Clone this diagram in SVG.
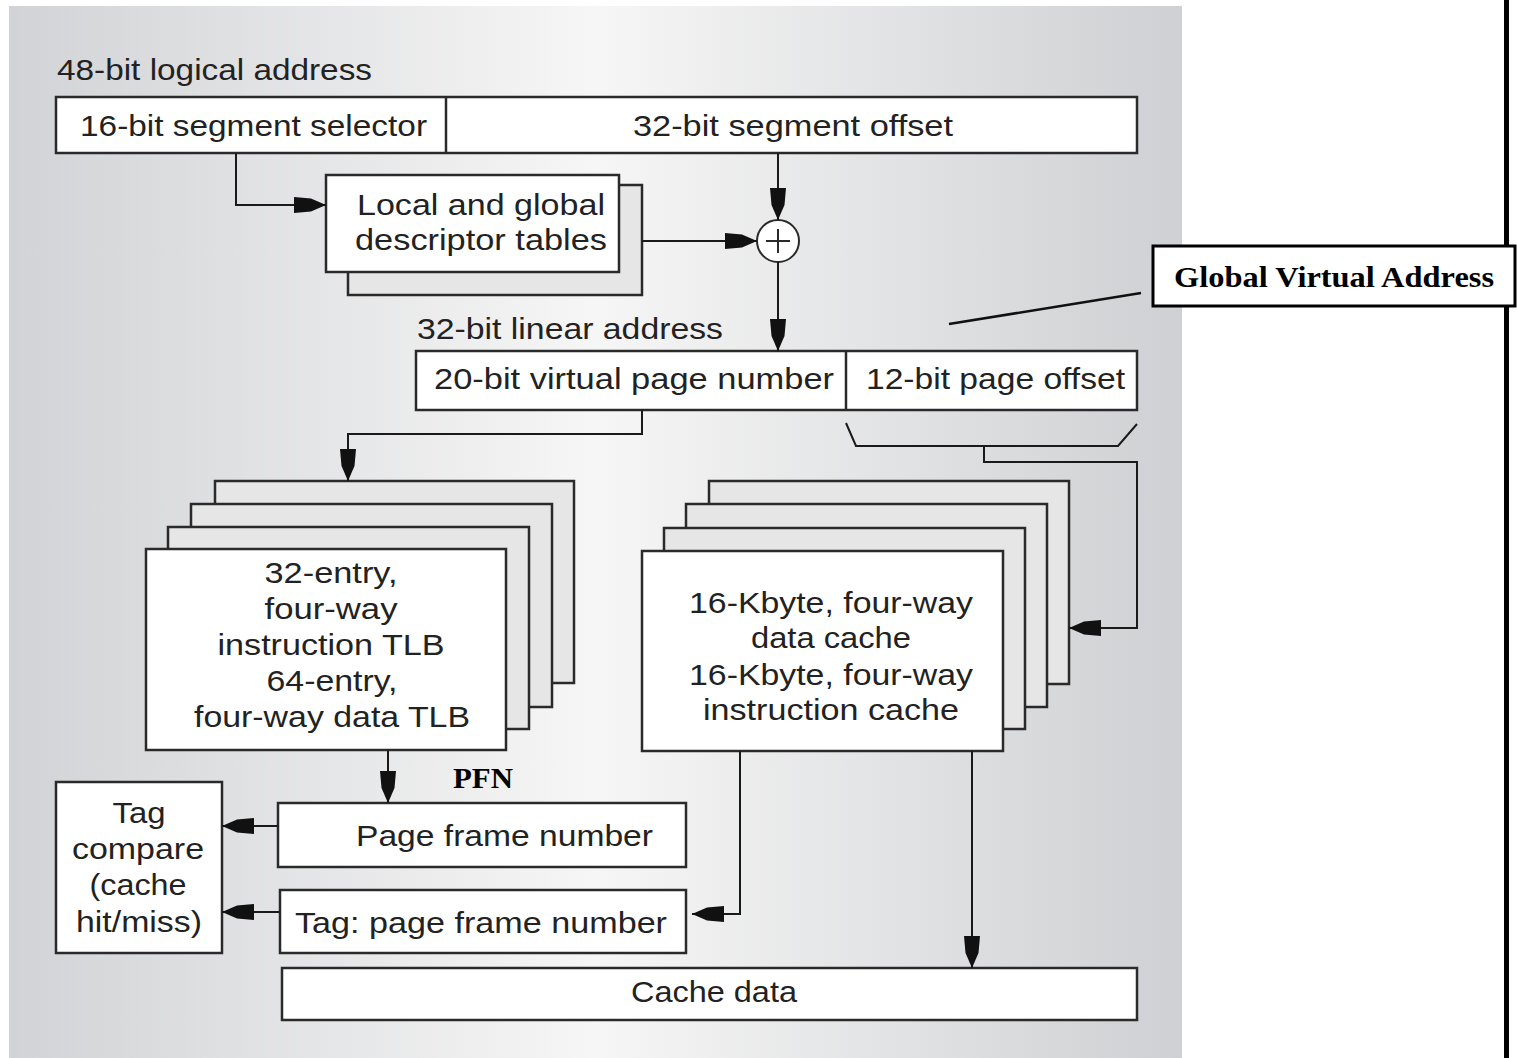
<svg xmlns="http://www.w3.org/2000/svg" width="1518" height="1058" viewBox="0 0 1518 1058">
  <defs>
    <linearGradient id="panelShade" x1="0" y1="0" x2="1" y2="0">
      <stop offset="0" stop-color="#d2d3d6"/>
      <stop offset="0.5" stop-color="#f6f6f6"/>
      <stop offset="1" stop-color="#cfd0d3"/>
    </linearGradient>
    <marker id="arrow" viewBox="0 0 32 18" refX="32" refY="9" markerWidth="32" markerHeight="18" markerUnits="userSpaceOnUse" orient="auto">
      <path d="M0,1 L17,2.5 L32,9 L17,15.5 L0,17 Z" fill="#111"/>
    </marker>
    <style>
      .box { fill: #ffffff; stroke: #2a2a2a; stroke-width: 2.5; }
      .back { fill: #e6e6e6; stroke: #2a2a2a; stroke-width: 2.5; }
      .lbl { font-family: "Liberation Sans", Arial, sans-serif; font-size: 30px; fill: #222; }
      .mid { text-anchor: middle; }
      .note { font-family: "Liberation Serif", "Times New Roman", serif; font-weight: bold; font-size: 29px; fill: #000; }
      .wire { fill: none; stroke: #1a1a1a; stroke-width: 2; }
      .arr { marker-end: url(#arrow); }
    </style>
  </defs>

  <rect x="0" y="0" width="1518" height="1058" fill="#ffffff"/>
  <!-- shaded figure panel -->
  <rect x="9" y="6" width="1173" height="1052" fill="url(#panelShade)"/>
  <!-- page rule on the right -->
  <rect x="1504" y="0" width="5" height="1058" fill="#000"/>

  <text class="lbl" x="57" y="80" textLength="315" lengthAdjust="spacingAndGlyphs">48-bit logical address</text>
  <text class="lbl" x="417" y="339" textLength="306" lengthAdjust="spacingAndGlyphs">32-bit linear address</text>

  <g id="logical-address">
    <rect class="box" x="56" y="97" width="1081" height="56"/>
    <line x1="446" y1="97" x2="446" y2="153" stroke="#2a2a2a" stroke-width="2.5"/>
    <text class="lbl" x="80" y="136" textLength="347" lengthAdjust="spacingAndGlyphs">16-bit segment selector</text>
    <text class="lbl" x="633" y="136" textLength="320" lengthAdjust="spacingAndGlyphs">32-bit segment offset</text>
  </g>

  <g id="descriptor-tables">
    <rect class="back" x="348" y="185" width="294" height="110"/>
    <rect class="box" x="326" y="175" width="293" height="97"/>
    <text class="lbl" x="357" y="215" textLength="248" lengthAdjust="spacingAndGlyphs">Local and global</text>
    <text class="lbl" x="355" y="250" textLength="252" lengthAdjust="spacingAndGlyphs">descriptor tables</text>
  </g>

  <g id="adder">
    <circle cx="778" cy="241" r="21" fill="#fff" stroke="#2a2a2a" stroke-width="2"/>
    <line x1="766" y1="241" x2="790" y2="241" stroke="#2a2a2a" stroke-width="2"/>
    <line x1="778" y1="229" x2="778" y2="253" stroke="#2a2a2a" stroke-width="2"/>
  </g>

  <g id="linear-address">
    <rect class="box" x="416" y="351" width="721" height="59"/>
    <line x1="846" y1="351" x2="846" y2="410" stroke="#2a2a2a" stroke-width="2.5"/>
    <text class="lbl" x="434" y="389" textLength="400" lengthAdjust="spacingAndGlyphs">20-bit virtual page number</text>
    <text class="lbl" x="866" y="389" textLength="259" lengthAdjust="spacingAndGlyphs">12-bit page offset</text>
  </g>

  <g id="global-virtual-address">
    <rect x="1153" y="246" width="362" height="60" fill="#fff" stroke="#000" stroke-width="3"/>
    <text class="note" x="1174" y="287" textLength="320" lengthAdjust="spacingAndGlyphs">Global Virtual Address</text>
  </g>

  <g id="tlb">
    <rect class="back" x="215" y="481" width="359" height="202"/>
    <rect class="back" x="191" y="504" width="361" height="203"/>
    <rect class="back" x="168" y="527" width="361" height="202"/>
    <rect class="box" x="146" y="549" width="360" height="201"/>
    <text class="lbl mid" x="331" y="583" textLength="133" lengthAdjust="spacingAndGlyphs">32-entry,</text>
    <text class="lbl mid" x="331" y="619" textLength="133" lengthAdjust="spacingAndGlyphs">four-way</text>
    <text class="lbl mid" x="331" y="655" textLength="227" lengthAdjust="spacingAndGlyphs">instruction TLB</text>
    <text class="lbl mid" x="332" y="691" textLength="131" lengthAdjust="spacingAndGlyphs">64-entry,</text>
    <text class="lbl mid" x="332" y="727" textLength="276" lengthAdjust="spacingAndGlyphs">four-way data TLB</text>
  </g>

  <g id="caches">
    <rect class="back" x="709" y="481" width="360" height="203"/>
    <rect class="back" x="686" y="504" width="361" height="203"/>
    <rect class="back" x="664" y="528" width="361" height="201"/>
    <rect class="box" x="642" y="551" width="361" height="200"/>
    <text class="lbl mid" x="831" y="613" textLength="284" lengthAdjust="spacingAndGlyphs">16-Kbyte, four-way</text>
    <text class="lbl mid" x="831" y="648" textLength="160" lengthAdjust="spacingAndGlyphs">data cache</text>
    <text class="lbl mid" x="831" y="685" textLength="284" lengthAdjust="spacingAndGlyphs">16-Kbyte, four-way</text>
    <text class="lbl mid" x="831" y="720" textLength="256" lengthAdjust="spacingAndGlyphs">instruction cache</text>
  </g>

  <text class="note" x="453" y="788" textLength="60" lengthAdjust="spacingAndGlyphs">PFN</text>

  <g id="tag-compare">
    <rect class="box" x="56" y="782" width="166" height="171"/>
    <text class="lbl mid" x="139" y="823" textLength="53" lengthAdjust="spacingAndGlyphs">Tag</text>
    <text class="lbl mid" x="138" y="859" textLength="132" lengthAdjust="spacingAndGlyphs">compare</text>
    <text class="lbl mid" x="138" y="895" textLength="97" lengthAdjust="spacingAndGlyphs">(cache</text>
    <text class="lbl mid" x="139" y="932" textLength="126" lengthAdjust="spacingAndGlyphs">hit/miss)</text>
  </g>

  <g id="page-frame-number">
    <rect class="box" x="278" y="803" width="408" height="64"/>
    <text class="lbl" x="356" y="846" textLength="297" lengthAdjust="spacingAndGlyphs">Page frame number</text>
  </g>

  <g id="tag-page-frame-number">
    <rect class="box" x="280" y="890" width="406" height="63"/>
    <text class="lbl" x="295" y="933" textLength="372" lengthAdjust="spacingAndGlyphs">Tag: page frame number</text>
  </g>

  <g id="cache-data">
    <rect class="box" x="282" y="968" width="855" height="52"/>
    <text class="lbl" x="631" y="1002" textLength="166" lengthAdjust="spacingAndGlyphs">Cache data</text>
  </g>

  <g id="connectors">
    <polyline class="wire arr" points="236,153 236,205 326,205"/>
    <line class="wire arr" x1="778" y1="153" x2="778" y2="220"/>
    <line class="wire arr" x1="642" y1="241" x2="757" y2="241"/>
    <line class="wire arr" x1="778" y1="262" x2="778" y2="351"/>
    <polyline class="wire arr" points="642,410 642,434 348,434 348,481"/>
    <!-- brace under the page offset field -->
    <polyline class="wire" points="846,423 856,446 1118,446 1137,424"/>
    <polyline class="wire arr" points="984,446 984,462 1137,462 1137,628 1069,628"/>
    <line class="wire arr" x1="388" y1="750" x2="388" y2="803"/>
    <line class="wire arr" x1="278" y1="826" x2="222" y2="826"/>
    <line class="wire arr" x1="280" y1="912" x2="222" y2="912"/>
    <polyline class="wire arr" points="740,751 740,914 692,914"/>
    <line class="wire arr" x1="972" y1="751" x2="972" y2="968"/>
    <!-- leader to the address note -->
    <line x1="949" y1="324" x2="1141" y2="293" stroke="#111" stroke-width="2.5"/>
  </g>
</svg>
